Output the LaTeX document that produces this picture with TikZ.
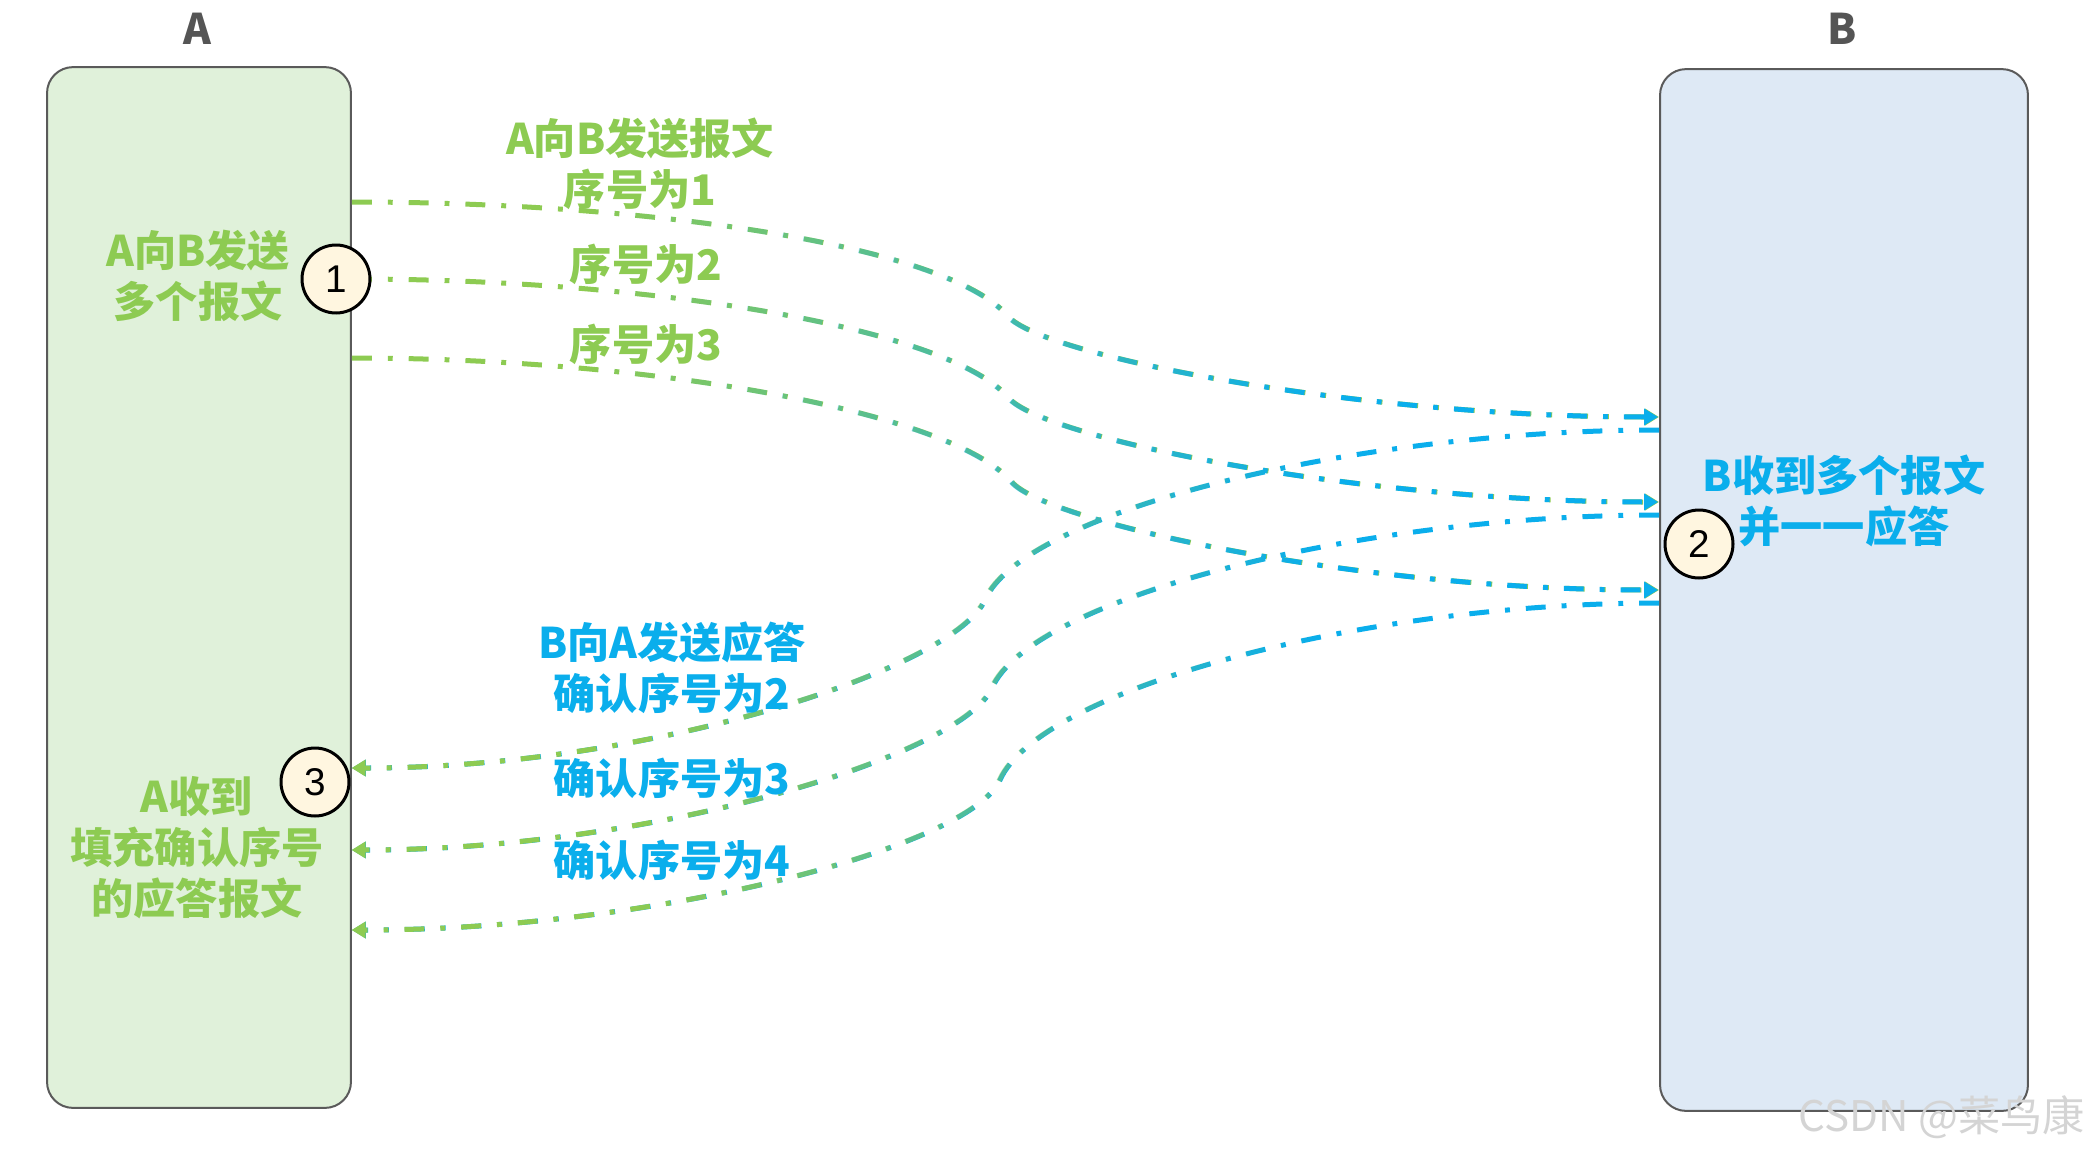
\documentclass[tikz,border=0pt]{standalone}
\usepackage{fontspec}
\setmainfont{Liberation Sans}
\newfontfamily\cjk{Noto Sans CJK SC}
\usepackage{tikz}
\usetikzlibrary{arrows.meta,positioning,fadings}
\usepackage{xcolor}
\definecolor{hostgreen}{HTML}{E0F1DA}
\definecolor{hostblue}{HTML}{DEE9F5}
\definecolor{hostline}{HTML}{5A5A5A}
\definecolor{sendgreen}{HTML}{8DCB52}
\definecolor{ackblue}{HTML}{0AAEEC}
\definecolor{dotfill}{HTML}{FFF6E0}
\definecolor{headgray}{HTML}{555555}
% colour change mostly around the bend in the middle
\begin{tikzfadingfrompicture}[name=toeast]
  \fill[transparent!100] (-60bp,-60bp) rectangle (-16bp,60bp);
  \shade[left color=transparent!100, right color=transparent!0] (-16bp,-60bp) rectangle (12bp,60bp);
  \fill[transparent!0] (12bp,-60bp) rectangle (60bp,60bp);
\end{tikzfadingfrompicture}
\begin{tikzfadingfrompicture}[name=towest]
  \fill[transparent!0] (-60bp,-60bp) rectangle (-14bp,60bp);
  \shade[left color=transparent!0, right color=transparent!100] (-14bp,-60bp) rectangle (12bp,60bp);
  \fill[transparent!100] (12bp,-60bp) rectangle (60bp,60bp);
\end{tikzfadingfrompicture}
\tikzset{
  hostbox/.style={
    rectangle,
    rounded corners=0.52cm,
    draw=hostline,
    line width=0.04cm
  },
  headlabel/.style={font=\cjk\bfseries\fontsize{24}{29}\selectfont, text=headgray},
  sendnote/.style={align=center, font=\cjk\bfseries\fontsize{24}{29}\selectfont, text=sendgreen},
  acknote/.style={sendnote, text=ackblue},
  numdot/.style={
    circle,
    draw=black,
    line width=0.06cm,
    fill=dotfill,
    minimum size=1.36cm,
    inner sep=0pt,
    font=\fontsize{22}{26}\selectfont
  },
  msglink/.style={
    line width=0.1cm,
    dash pattern=on 11.3pt off 9.1pt on 2.8pt off 9.1pt,
    -{Triangle[length=0.28cm, width=0.32cm]}
  },
  sendlink/.style={msglink, draw=sendgreen, postaction={draw=ackblue, path fading=toeast}},
  acklink/.style={msglink, draw=ackblue, postaction={draw=sendgreen, path fading=towest}}
}

\begin{document}
\begin{tikzpicture}[x=0.02cm, y=-0.02cm]
\useasboundingbox (0,0) rectangle (2083,1153);
\node[hostbox, fill=hostgreen, minimum width=6.08cm, minimum height=20.82cm] (hostA) at (199,587.5) {};
\node[hostbox, fill=hostblue, minimum width=7.36cm, minimum height=20.84cm] (hostB) at (1844,590) {};
\node[headlabel] (titleA) at (197,29) {A};
\node[headlabel] (titleB) at (1842,29) {B};
% where the messages leave and arrive
\coordinate (out1) at (hostA.east |- 0,202);
\coordinate (out2) at (hostA.east |- 0,279);
\coordinate (out3) at (hostA.east |- 0,358);
\coordinate (in1) at (hostB.west |- 0,417);
\coordinate (in2) at (hostB.west |- 0,502);
\coordinate (in3) at (hostB.west |- 0,590);
\coordinate (bend1) at (1008,316);
\coordinate (bend2) at (1009,398);
\coordinate (bend3) at (1012,482);
\coordinate (back1) at (hostB.west |- 0,430);
\coordinate (back2) at (hostB.west |- 0,515);
\coordinate (back3) at (hostB.west |- 0,603);
\coordinate (turn1) at (985,600);
\coordinate (turn2) at (992,688);
\coordinate (turn3) at (1000,780);
\coordinate (ret1) at (hostA.east |- 0,768);
\coordinate (ret2) at (hostA.east |- 0,850);
\coordinate (ret3) at (hostA.east |- 0,930);
\draw[sendlink] (out1) .. controls +(300,0) and +(-60,-70) .. (bend1) .. controls +(34,40) and +(-300,0) .. (in1);
\draw[sendlink] (out2) .. controls +(300,0) and +(-60,-70) .. (bend2) .. controls +(34,40) and +(-300,0) .. (in2);
\draw[sendlink] (out3) .. controls +(300,0) and +(-60,-70) .. (bend3) .. controls +(34,40) and +(-300,0) .. (in3);
\draw[acklink] (back1) .. controls +(-300,0) and +(40,-90) .. (turn1) .. controls +(-30,68) and +(300,0) .. (ret1);
\draw[acklink] (back2) .. controls +(-300,0) and +(40,-90) .. (turn2) .. controls +(-30,68) and +(300,0) .. (ret2);
\draw[acklink] (back3) .. controls +(-300,0) and +(40,-90) .. (turn3) .. controls +(-30,68) and +(300,0) .. (ret3);
\node[numdot] (mark1) at (336,279) {1};
\node[numdot] (mark2) at (1699,544) {2};
\node[numdot] (mark3) at (315,782) {3};
\node[sendnote] (sendA) at (198,276) {A向B发送\\多个报文};
\node[sendnote] (recvA) at (197,848) {A收到\\填充确认序号\\的应答报文};
\node[acknote] (recvB) at (1844,501) {B收到多个报文\\并一一应答};
\node[sendnote] (seq1) at (640,164) {A向B发送报文\\序号为1};
\node[sendnote] (seq2) at (646,264) {序号为2};
\node[sendnote] (seq3) at (646,344) {序号为3};
\node[acknote] (ack2) at (672,668) {B向A发送应答\\确认序号为2};
\node[acknote] (ack3) at (672,778) {确认序号为3};
\node[acknote] (ack4) at (672,860) {确认序号为4};
\node[font=\cjk\fontsize{24}{29}\selectfont, text=black!17] (wmark) at (1942,1117) {CSDN @菜鸟康};
\end{tikzpicture}
\end{document}
